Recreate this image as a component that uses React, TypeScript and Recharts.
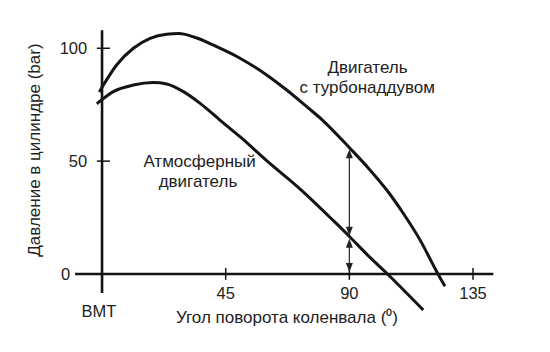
import React from 'react';
import { LineChart, Line, XAxis, YAxis, ReferenceLine, ReferenceDot } from 'recharts';

// Crank angle (deg) and cylinder pressure (bar)
const turboAngle = [-1, 0.5, 5.3, 11.4, 17.5, 23.5, 28, 33.2, 41.7, 50.2, 59.9, 67.2, 74.5, 80, 90.2, 97.5, 103.6, 109.6, 115.7, 121.8, 124.8];
const turboPressure = [80.6, 83.7, 92.6, 100, 104.4, 106.2, 106.5, 105.1, 100.7, 95.6, 88.2, 81.5, 74.1, 68.4, 55.7, 46.1, 37.2, 26.9, 15.1, 1, -5.5];

const atmoAngle = [-1.9, -0.7, 4.1, 11.4, 18.7, 23.5, 29.6, 35.7, 42.9, 50.2, 59.9, 72.1, 84.2, 90.2, 96.3, 103.6, 116.9];
const atmoPressure = [75.4, 76.6, 80.8, 83.7, 84.8, 84.2, 80.8, 75.6, 68.2, 60.8, 50.2, 37.6, 23.6, 16.4, 8.8, 0.3, -16];

const xTicks = [45, 90, 135];
const yTicks = [50, 100];
const originLabel = 'BMT';
const xTitle = 'Угол поворота коленвала (⁰)';
const yTitle = 'Давление в цилиндре (bar)';
const turboLabel = ['Двигатель', 'с турбонаддувом'];
const atmoLabel = ['Атмосферный', 'двигатель'];

// arrows at 90 deg: turbo gain and atmospheric pressure
const arrowAngle = 90;
const arrowUpper = [55.3, 16.9];
const arrowLower = [15.6, 0.9];

const turboData = turboAngle.map((x, i) => ({ x, y: turboPressure[i] }));
const atmoData = atmoAngle.map((x, i) => ({ x, y: atmoPressure[i] }));

const FONT = '"Liberation Sans", Arial, sans-serif';
const INK = '#141414';

const textShape = (txt: string, anchor: string, size = 17, angle = 0) => (p: any) => (
  <text
    x={p.cx}
    y={p.cy}
    textAnchor={anchor}
    dominantBaseline="central"
    fontFamily={FONT}
    fontSize={size}
    fill="#222"
    transform={angle ? `rotate(${angle} ${p.cx} ${p.cy})` : undefined}
  >
    {txt}
  </text>
);

const arrowShape = (p: any) => {
  const { x1, y1, x2, y2 } = p;
  const L = 9;
  const W = 3.5;
  const dir = y2 > y1 ? 1 : -1;
  return (
    <g>
      <line x1={x1} y1={y1 + dir * 4} x2={x2} y2={y2 - dir * 4} stroke="#333" strokeWidth={1.3} />
      <polygon points={`${x1},${y1} ${x1 - W},${y1 + dir * L} ${x1 + W},${y1 + dir * L}`} fill="#222" />
      <polygon points={`${x2},${y2} ${x2 - W},${y2 - dir * L} ${x2 + W},${y2 - dir * L}`} fill="#222" />
    </g>
  );
};

export default function App() {
  return (
    <LineChart
      width={534}
      height={336}
      margin={{ top: 17.7, right: 41.5, bottom: 20.4, left: 11.6 }}
    >
      <XAxis type="number" dataKey="x" domain={[-30, 145]} hide allowDataOverflow />
      <YAxis type="number" dataKey="y" domain={[-22, 110]} hide allowDataOverflow />

      {/* axes */}
      <ReferenceLine segment={[{ x: -9.8, y: 0 }, { x: 142.4, y: 0 }]} stroke={INK} strokeWidth={2.6} />
      <ReferenceLine segment={[{ x: 0, y: -8.4 }, { x: 0, y: 108 }]} stroke={INK} strokeWidth={2.6} />
      {xTicks.map((t) => (
        <ReferenceLine key={'xt' + t} segment={[{ x: t, y: -2.6 }, { x: t, y: 2.6 }]} stroke={INK} strokeWidth={1.5} />
      ))}
      {yTicks.map((t) => (
        <ReferenceLine key={'yt' + t} segment={[{ x: -1.9, y: t }, { x: 2.9, y: t }]} stroke={INK} strokeWidth={1.5} />
      ))}

      {/* curves */}
      <Line data={turboData} dataKey="y" type="monotone" stroke={INK} strokeWidth={3} dot={false} isAnimationActive={false} />
      <Line data={atmoData} dataKey="y" type="monotone" stroke={INK} strokeWidth={3} dot={false} isAnimationActive={false} />

      {/* arrows */}
      <ReferenceLine segment={[{ x: arrowAngle, y: arrowUpper[0] }, { x: arrowAngle, y: arrowUpper[1] }]} shape={arrowShape} />
      <ReferenceLine segment={[{ x: arrowAngle, y: arrowLower[0] }, { x: arrowAngle, y: arrowLower[1] }]} shape={arrowShape} />

      {/* tick labels */}
      {xTicks.map((t) => (
        <ReferenceDot key={'xl' + t} x={t} y={-8.4} r={0} shape={textShape(String(t), 'middle', 16.5)} />
      ))}
      {yTicks.map((t) => (
        <ReferenceDot key={'yl' + t} x={-5.4} y={t} r={0} shape={textShape(String(t), 'end', 16.5)} />
      ))}
      <ReferenceDot x={-11.6} y={0} r={0} shape={textShape('0', 'end', 16.5)} />
      <ReferenceDot x={-1.1} y={-16.2} r={0} shape={textShape(originLabel, 'middle', 16.5)} />

      {/* titles */}
      <ReferenceDot x={67.3} y={-19.5} r={0} shape={textShape(xTitle, 'middle')} />
      <ReferenceDot x={-24.4} y={54.9} r={0} shape={textShape(yTitle, 'middle', 17, -90)} />

      {/* series labels */}
      <ReferenceDot x={35.5} y={49.8} r={0} shape={textShape(atmoLabel[0], 'middle')} />
      <ReferenceDot x={34.9} y={40.8} r={0} shape={textShape(atmoLabel[1], 'middle')} />
      <ReferenceDot x={96.6} y={91.3} r={0} shape={textShape(turboLabel[0], 'middle')} />
      <ReferenceDot x={96.5} y={82.4} r={0} shape={textShape(turboLabel[1], 'middle')} />
    </LineChart>
  );
}
